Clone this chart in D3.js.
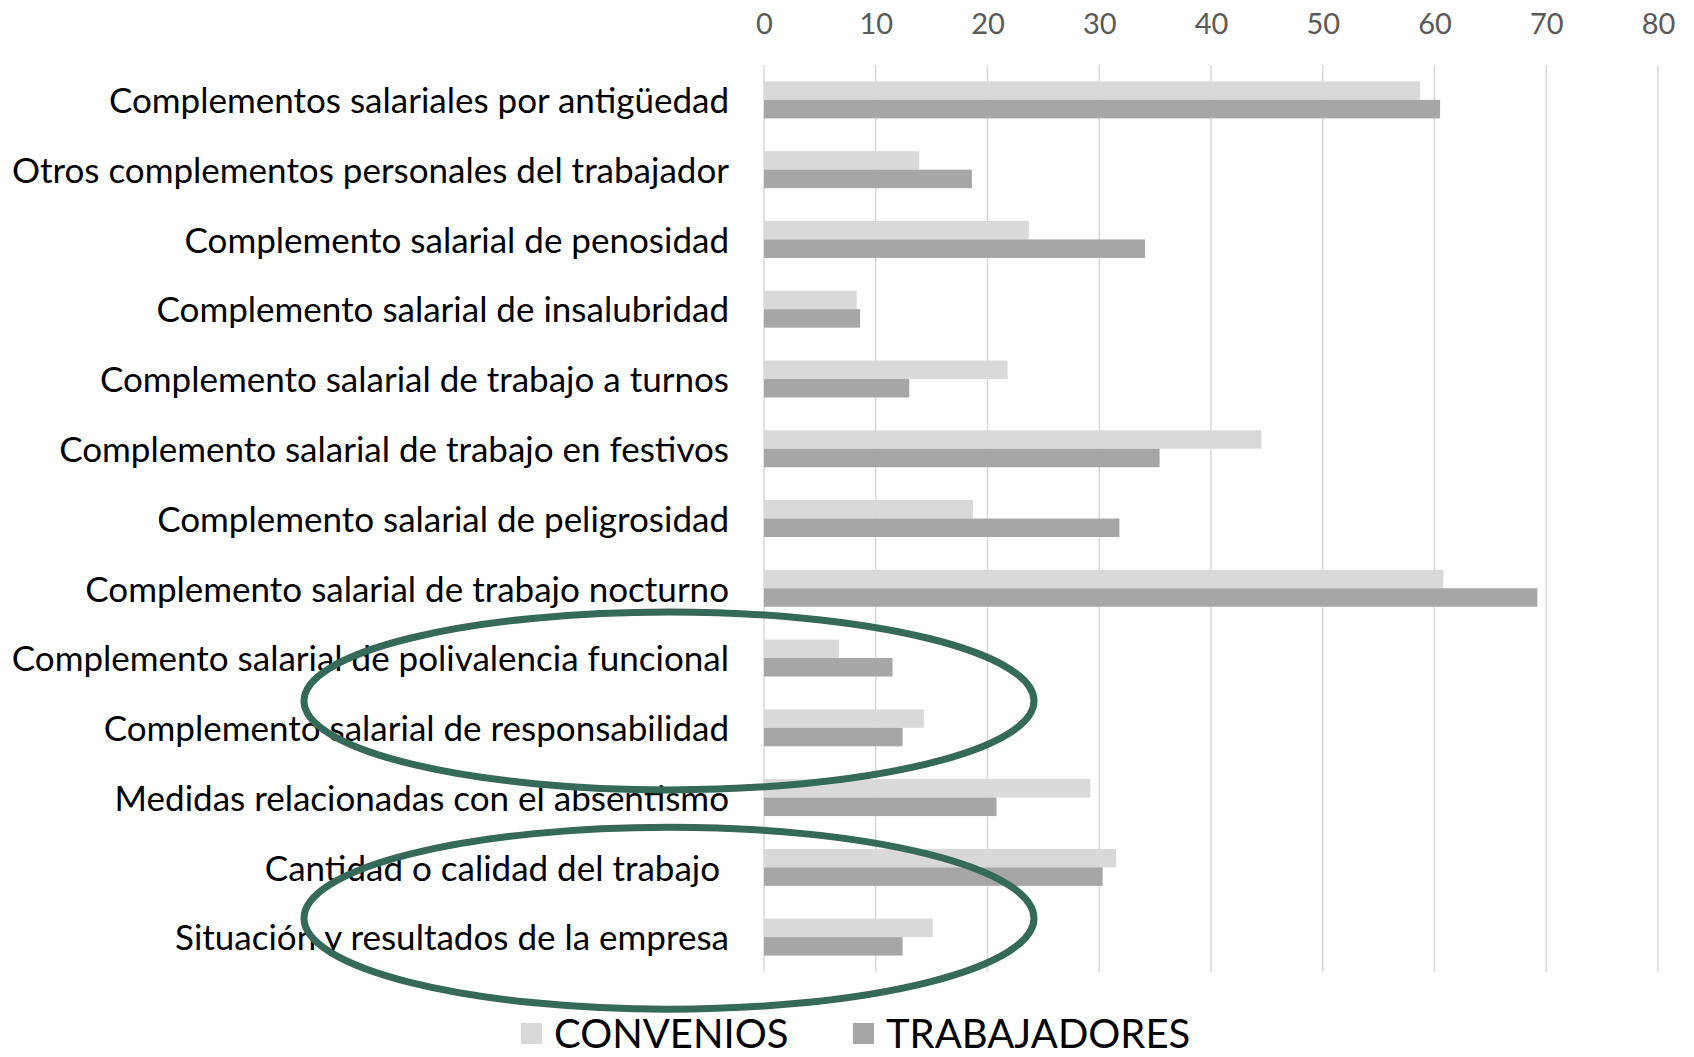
<!DOCTYPE html>
<html>
<head>
<meta charset="utf-8">
<script src="https://cdn.jsdelivr.net/npm/d3@7"></script>
<style>
  body { margin: 0; background: #fff; }
  svg { font-family: Lato, "Noto Sans", sans-serif; }
  .tick text { fill: #595959; }
</style>
</head>
<body>
<svg id="chart" width="1694" height="1057"></svg>
<script>
// data
var categories = [
  "Complementos salariales por antigüedad",
  "Otros complementos personales del trabajador",
  "Complemento salarial de penosidad",
  "Complemento salarial de insalubridad",
  "Complemento salarial de trabajo a turnos",
  "Complemento salarial de trabajo en festivos",
  "Complemento salarial de peligrosidad",
  "Complemento salarial de trabajo nocturno",
  "Complemento salarial de polivalencia funcional",
  "Complemento salarial de responsabilidad",
  "Medidas relacionadas con el absentismo",
  "Cantidad o calidad del trabajo ",
  "Situación y resultados de la empresa"
];
var convenios     = [58.7, 13.9, 23.7, 8.3, 21.8, 44.5, 18.7, 60.8, 6.7, 14.3, 29.2, 31.5, 15.1];
var trabajadores  = [60.5, 18.6, 34.1, 8.6, 13.0, 35.4, 31.8, 69.2, 11.5, 12.4, 20.8, 30.3, 12.4];
var seriesNames   = ["CONVENIOS", "TRABAJADORES"];
var xTicks        = [0, 10, 20, 30, 40, 50, 60, 70, 80];

var colors = ["#d9d9d9", "#a6a6a6"];

var plotLeft = 764, plotRight = 1658, plotTop = 65, plotBottom = 972;

var svg = d3.select("#chart");

var x = d3.scaleLinear().domain([0, 80]).range([plotLeft, plotRight]);
var y = d3.scaleBand().domain(categories).range([plotTop, plotBottom]).paddingInner(0.47).paddingOuter(0.235);
var sub = d3.scaleBand().domain(seriesNames).range([0, y.bandwidth()]);

// gridlines
svg.append("g").selectAll("line")
  .data(xTicks)
  .enter().append("line")
  .attr("x1", function(d) { return x(d); })
  .attr("x2", function(d) { return x(d); })
  .attr("y1", plotTop)
  .attr("y2", plotBottom)
  .attr("stroke", "#d9d9d9")
  .attr("stroke-width", 1.5);

// top axis labels
var xAxis = svg.append("g")
  .attr("transform", "translate(0," + 34 + ")")
  .call(d3.axisTop(x).tickValues(xTicks).tickSize(0).tickPadding(0));
xAxis.select(".domain").remove();
xAxis.selectAll("text").attr("font-size", 29).attr("font-family", "Lato, sans-serif");

// bars
var rows = categories.map(function(c, i) { return {cat: c, vals: [convenios[i], trabajadores[i]]}; });
var g = svg.append("g").selectAll("g")
  .data(rows)
  .enter().append("g")
  .attr("transform", function(d) { return "translate(0," + y(d.cat) + ")"; });

g.selectAll("rect")
  .data(function(d) { return d.vals.map(function(v, j) { return {v: v, s: seriesNames[j], j: j}; }); })
  .enter().append("rect")
  .attr("x", x(0))
  .attr("y", function(d) { return sub(d.s); })
  .attr("width", function(d) { return x(d.v) - x(0); })
  .attr("height", sub.bandwidth())
  .attr("fill", function(d) { return colors[d.j]; });

// category labels
svg.append("g").selectAll("text")
  .data(categories)
  .enter().append("text")
  .attr("x", 729)
  .attr("y", function(d) { return y(d) + y.bandwidth() / 2; })
  .attr("dy", "0.38em")
  .attr("text-anchor", "end")
  .attr("font-size", 35)
  .attr("fill", "#000")
  .style("white-space", "pre")
  .text(function(d) { return d; });

// highlight ellipses (drawn by hand over the chart)
var ellipses = [
  {rows: [categories[8], categories[9]], shift: 8, ry: 89},
  {rows: [categories[11], categories[12]], shift: 16, ry: 91}
];
svg.append("g").selectAll("ellipse")
  .data(ellipses)
  .enter().append("ellipse")
  .attr("cx", x(0) - 95)
  .attr("cy", function(d) { return (y(d.rows[0]) + y(d.rows[1]) + y.bandwidth()) / 2 + d.shift; })
  .attr("rx", 365)
  .attr("ry", function(d) { return d.ry; })
  .attr("fill", "none")
  .attr("stroke", "#35695a")
  .attr("stroke-width", 7);

// legend
var legendX = [521, 853];
var legend = svg.append("g").selectAll("g")
  .data(seriesNames)
  .enter().append("g")
  .attr("transform", function(d, i) { return "translate(" + legendX[i] + ",1034)"; });
legend.append("rect")
  .attr("x", 0).attr("y", -11)
  .attr("width", 21).attr("height", 21)
  .attr("fill", function(d, i) { return colors[i]; });
legend.append("text")
  .attr("x", 33)
  .attr("dy", "0.36em")
  .attr("font-size", 40)
  .attr("fill", "#000")
  .text(function(d) { return d; });
</script>
</body>
</html>
